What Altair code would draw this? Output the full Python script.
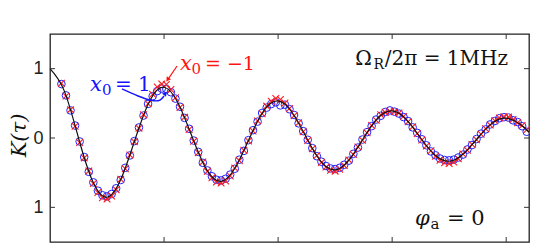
import altair as alt
import pandas as pd

# ---------------- data ----------------
# black model curve K(tau), tau in microseconds
line_tau = [0.000, 0.125, 0.250, 0.375, 0.500, 0.625, 0.750, 0.875,
            1.000, 1.125, 1.250, 1.375, 1.500, 1.625, 1.750, 1.875,
            2.000, 2.125, 2.250, 2.375, 2.500, 2.625, 2.750, 2.875,
            3.000, 3.125, 3.250, 3.375, 3.500, 3.625, 3.750, 3.875,
            4.000, 4.125, 4.200]
line_k = [1.000, 0.680, 0.000, -0.629, -0.855, -0.582, 0.000, 0.538,
          0.732, 0.498, 0.000, -0.460, -0.626, -0.426, 0.000, 0.394,
          0.535, 0.364, 0.000, -0.337, -0.458, -0.311, 0.000, 0.288,
          0.392, 0.266, 0.000, -0.246, -0.335, -0.228, 0.000, 0.211,
          0.287, 0.195, 0.083]

# sampled points (both initial states share the sampling times)
pts_tau = [0.10, 0.14, 0.18, 0.22, 0.26, 0.30, 0.34, 0.38, 0.42, 0.46, 0.50, 0.54, 0.58,
           0.62, 0.66, 0.70, 0.74, 0.78, 0.82, 0.86, 0.90, 0.94, 0.98, 1.02, 1.06,
           1.10, 1.14, 1.18, 1.22, 1.26, 1.30, 1.34, 1.38, 1.42, 1.46, 1.50, 1.54, 1.58,
           1.62, 1.66, 1.70, 1.74, 1.78, 1.82, 1.86, 1.90, 1.94, 1.98, 2.02, 2.06,
           2.10, 2.14, 2.18, 2.22, 2.26, 2.30, 2.34, 2.38, 2.42, 2.46, 2.50, 2.54, 2.58,
           2.62, 2.66, 2.70, 2.74, 2.78, 2.82, 2.86, 2.90, 2.94, 2.98, 3.02, 3.06,
           3.10, 3.14, 3.18, 3.22, 3.26, 3.30, 3.34, 3.38, 3.42, 3.46, 3.50, 3.54, 3.58,
           3.62, 3.66, 3.70, 3.74, 3.78, 3.82, 3.86, 3.90, 3.94, 3.98, 4.02, 4.06,
           4.10, 4.14, 4.18]

k_x0_plus1 = [0.778, 0.615, 0.398, 0.180, -0.050, -0.275, -0.488, -0.640, -0.760, -0.826, -0.842, -0.808, -0.725,
              -0.606, -0.430, -0.252, -0.045, 0.152, 0.324, 0.492, 0.603, 0.676, 0.712, 0.706, 0.660,
              0.568, 0.451, 0.290, 0.133, -0.037, -0.200, -0.358, -0.468, -0.552, -0.602, -0.612, -0.588, -0.528,
              -0.444, -0.313, -0.186, -0.031, 0.112, 0.236, 0.361, 0.438, 0.490, 0.515, 0.470, 0.480,
              0.415, 0.332, 0.211, 0.099, -0.026, -0.146, -0.263, -0.342, -0.404, -0.440, -0.448, -0.430, -0.386,
              -0.327, -0.228, -0.138, -0.022, 0.084, 0.171, 0.266, 0.320, 0.376, 0.398, 0.380, 0.352,
              0.302, 0.244, 0.153, 0.074, -0.018, -0.105, -0.194, -0.249, -0.296, -0.318, -0.322, -0.312, -0.281,
              -0.240, -0.166, -0.102, -0.015, 0.063, 0.124, 0.196, 0.245, 0.285, 0.300, 0.295, 0.255,
              0.230, 0.170, 0.090]

k_x0_minus1 = [0.790, 0.604, 0.409, 0.170, -0.064, -0.287, -0.476, -0.655, -0.785, -0.862, -0.880, -0.838, -0.745,
               -0.596, -0.443, -0.244, -0.055, 0.142, 0.337, 0.494, 0.630, 0.735, 0.780, 0.772, 0.700,
               0.580, 0.440, 0.301, 0.122, -0.048, -0.212, -0.347, -0.481, -0.575, -0.636, -0.650, -0.620, -0.548,
               -0.433, -0.326, -0.177, -0.042, 0.102, 0.247, 0.350, 0.460, 0.530, 0.570, 0.555, 0.505,
               0.425, 0.322, 0.221, 0.089, -0.036, -0.156, -0.253, -0.352, -0.420, -0.465, -0.478, -0.452, -0.398,
               -0.316, -0.238, -0.128, -0.032, 0.074, 0.181, 0.256, 0.336, 0.368, 0.384, 0.380, 0.362,
               0.312, 0.234, 0.163, 0.064, -0.028, -0.115, -0.184, -0.262, -0.322, -0.356, -0.368, -0.348, -0.300,
               -0.230, -0.176, -0.092, -0.025, 0.053, 0.134, 0.186, 0.250, 0.290, 0.305, 0.302, 0.268,
               0.220, 0.180, 0.120]

x_ticks = [1, 2, 3, 4]
y_ticks = [-1, 0, 1]

# annotation texts (positions in data units)
ann_normal = pd.DataFrame({
    "tau":   [2.676, 2.836, 2.935, 3.336, 3.481, 0.456, 0.570, 1.241, 1.359],
    "K":     [1.053, 0.995, 1.053, -1.313, -1.255, 0.620, 0.678, 0.923, 0.981],
    "label": ["Ω", "R", "/2π = 1MHz", "a", "= 0", "0", "= 1", "0", "= −1"],
    "fs":    [20, 14, 20, 15, 21, 15, 20, 15, 19],
    "col":   ["#111111"] * 5 + ["#1414ff", "#1414ff", "#ff1414", "#ff1414"],
})
ann_italic = pd.DataFrame({
    "tau":   [3.200, 0.351, 1.140],
    "K":     [-1.255, 0.678, 0.981],
    "label": ["φ", "x", "x"],
    "fs":    [21, 21, 21],
    "col":   ["#111111", "#1414ff", "#ff1414"],
})

# arrows
blue_arrow = pd.DataFrame({
    "tau": [0.631, 0.772, 0.894, 0.965, 1.000],
    "K":   [0.707, 0.606, 0.541, 0.548, 0.606],
    "o":   [0, 1, 2, 3, 4],
})
red_arrow = pd.DataFrame({"tau": [1.114, 1.040], "K": [1.039, 0.860]})
heads = pd.DataFrame({
    "tau": [1.008, 1.035],
    "K":   [0.635, 0.851],
    "ang": [40, 215],
    "col": ["#1414ff", "#ff1414"],
})

# ---------------- chart ----------------
xs = alt.Scale(domain=[0, 4.2], nice=False, zero=False)
ys = alt.Scale(domain=[-1.5, 1.5], nice=False, zero=False)

line_df = pd.DataFrame({"tau": line_tau, "K": line_k})
pts_df = pd.DataFrame({"tau": pts_tau, "kp": k_x0_plus1, "km": k_x0_minus1})

y_axis = alt.Axis(values=y_ticks, labelExpr="datum.value == 0 ? '0' : '1'",
                  ticks=False, domain=False, grid=False,
                  labelFont="Liberation Sans", labelFontSize=18, labelColor="#222222",
                  labelPadding=7,
                  title="K(τ)", titleFont="DejaVu Serif", titleFontStyle="italic",
                  titleFontWeight="normal", titleFontSize=21, titleColor="#111111",
                  titleAngle=270, titleX=-25, titleY=101, titleAlign="center",
                  titleBaseline="alphabetic")


def X(field):
    return alt.X(field, scale=xs, axis=None)


def Y(field):
    return alt.Y(field, scale=ys, axis=y_axis)


circles = alt.Chart(pts_df).mark_point(shape="circle", filled=False, size=58,
                                       strokeWidth=1, color="#2222ff", opacity=1).encode(
    x=X("tau:Q"), y=Y("kp:Q"))
crosses = alt.Chart(pts_df).mark_point(shape="M-1,-1L1,1M-1,1L1,-1", filled=False, size=45,
                                       strokeWidth=1.1, color="#ff1a1a", opacity=1).encode(
    x=X("tau:Q"), y=Y("km:Q"))
curve = alt.Chart(line_df).mark_line(color="#111111", strokeWidth=1.2, interpolate="natural").encode(
    x=X("tau:Q"), y=Y("K:Q"))

tick_df_x = pd.DataFrame({"t": x_ticks})
tick_df_y = pd.DataFrame({"t": y_ticks})
tick_style = dict(color="#333333", strokeWidth=1)
top_ticks = alt.Chart(tick_df_x).mark_rule(**tick_style).encode(
    x=X("t:Q"), y=alt.value(0), y2=alt.value(5))
bot_ticks = alt.Chart(tick_df_x).mark_rule(**tick_style).encode(
    x=X("t:Q"), y=alt.value(208), y2=alt.value(203))
left_ticks = alt.Chart(tick_df_y).mark_rule(**tick_style).encode(
    y=Y("t:Q"), x=alt.value(0), x2=alt.value(5))
right_ticks = alt.Chart(tick_df_y).mark_rule(**tick_style).encode(
    y=Y("t:Q"), x=alt.value(479), x2=alt.value(474))

txt_normal = alt.Chart(ann_normal).mark_text(align="left", baseline="alphabetic",
                                             font="DejaVu Serif").encode(
    x=X("tau:Q"), y=Y("K:Q"),
    text="label:N",
    size=alt.Size("fs:Q", scale=None, legend=None),
    color=alt.Color("col:N", scale=None, legend=None),
)
txt_italic = alt.Chart(ann_italic).mark_text(align="left", baseline="alphabetic",
                                             font="DejaVu Serif", fontStyle="italic").encode(
    x=X("tau:Q"), y=Y("K:Q"),
    text="label:N",
    size=alt.Size("fs:Q", scale=None, legend=None),
    color=alt.Color("col:N", scale=None, legend=None),
)

arrow_b = alt.Chart(blue_arrow).mark_line(color="#1414ff", strokeWidth=1.4, interpolate="natural").encode(
    x=X("tau:Q"), y=Y("K:Q"), order="o:Q")
arrow_r = alt.Chart(red_arrow).mark_line(color="#ff1414", strokeWidth=1.2).encode(
    x=X("tau:Q"), y=Y("K:Q"))
arrow_heads = alt.Chart(heads).mark_point(shape="triangle", filled=True, size=28, opacity=1).encode(
    x=X("tau:Q"), y=Y("K:Q"),
    angle=alt.Angle("ang:Q", scale=None),
    color=alt.Color("col:N", scale=None, legend=None),
)

chart = alt.layer(
    circles, crosses, curve,
    top_ticks, bot_ticks, left_ticks, right_ticks,
    arrow_b, arrow_r, arrow_heads,
    txt_normal, txt_italic,
).properties(
    width=479, height=208,
    padding={"left": 42, "top": 26, "right": 1, "bottom": 1},
    autosize=alt.AutoSizeParams(type="none"),
    background="white",
).configure_view(stroke="#222222", strokeWidth=1.3)

chart.save("out.html", embed_options={"renderer": "svg", "actions": False})
